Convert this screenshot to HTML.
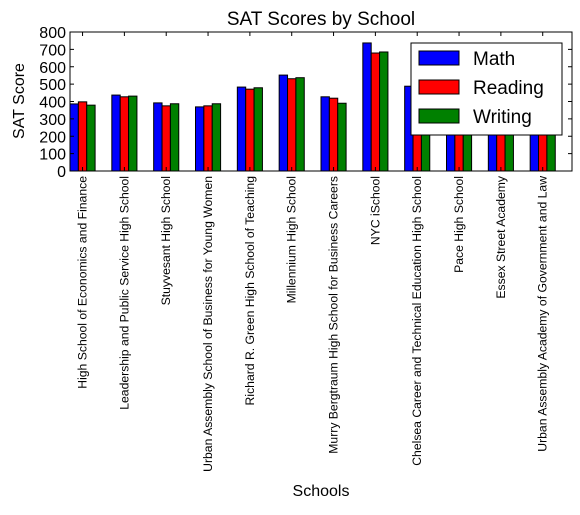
<!DOCTYPE html>
<html><head><meta charset="utf-8"><style>
body{margin:0;background:#fff}
svg text{font-family:"Liberation Sans",sans-serif}
</style></head><body>
<svg id="chart" width="580" height="510" xmlns="http://www.w3.org/2000/svg">
<rect width="580" height="510" fill="#fff"/>
<text x="321" y="25" font-size="19" text-anchor="middle">SAT Scores by School</text>
<text transform="translate(24,101) rotate(-90)" font-size="16" text-anchor="middle">SAT Score</text>
<text x="321" y="496" font-size="16" text-anchor="middle">Schools</text>
<g id="bars"></g>
<g id="axes"></g>
</svg>
<script>
const schools=["High School of Economics and Finance","Leadership and Public Service High School","Stuyvesant High School","Urban Assembly School of Business for Young Women","Richard R. Green High School of Teaching","Millennium High School","Murry Bergtraum High School for Business Careers","NYC iSchool","Chelsea Career and Technical Education High School","Pace High School","Essex Street Academy","Urban Assembly Academy of Government and Law"];
const mathScores=[386,437,392,369,483,552,427,737,488,450,440,430];
const readingScores=[398,427,375,375,471,531,419,679,440,445,430,425];
const writingScores=[379,431,387,387,479,537,390,685,430,440,425,420];
const yTicks=[0,100,200,300,400,500,600,700,800];
const L=70,R=572,T=32,B=171,NS="http://www.w3.org/2000/svg";
const xs=i=>L+(i)*(R-L)/12;
const ys=v=>B-v*(B-T)/800;
function mk(tag,attrs,parent){const e=document.createElementNS(NS,tag);for(const k in attrs)e.setAttribute(k,attrs[k]);parent.appendChild(e);return e;}
const bars=document.getElementById('bars'),axes=document.getElementById('axes');
const series=[[mathScores,'#0000ff','math'],[readingScores,'#ff0000','reading'],[writingScores,'#008000','writing']];
series.forEach(([vals,col,nm],s)=>{vals.forEach((v,i)=>{
 const r=mk('rect',{x:xs(i+0.2*s),y:ys(v),width:xs(0.2)-xs(0),height:ys(0)-ys(v),fill:col,stroke:'#000','stroke-width':1},bars);
 
 
});});
const frame=mk('rect',{x:L,y:T,width:R-L,height:B-T,fill:'none',stroke:'#000','stroke-width':1},axes);


yTicks.forEach(t=>{
 mk('line',{x1:L,x2:L+4,y1:ys(t),y2:ys(t),stroke:'#000'},axes);
 mk('line',{x1:R,x2:R-4,y1:ys(t),y2:ys(t),stroke:'#000'},axes);
 const tx=mk('text',{x:L-4,y:ys(t)+6,'font-size':16,'text-anchor':'end'},axes);
 tx.textContent=t;
 
 
});
schools.forEach((s,i)=>{
 const cx=xs(i+0.3);
 mk('line',{x1:cx,x2:cx,y1:B,y2:B-4,stroke:'#000'},axes);
 mk('line',{x1:cx,x2:cx,y1:T,y2:T+4,stroke:'#000'},axes);
 const tx=mk('text',{transform:`translate(${cx+4},176) rotate(-90)`,'font-size':12.2,'text-anchor':'end'},axes);
 tx.textContent=s;
 
 
});
const lg=mk('g',{},axes);


mk('rect',{x:411,y:43,width:151,height:92,fill:'#fff',stroke:'#000'},lg);
[['Math','#0000ff'],['Reading','#ff0000'],['Writing','#008000']].forEach(([n,c],k)=>{
 const y=51+k*29;
 mk('rect',{x:419,y:y,width:40,height:14,fill:c,stroke:'#000'},lg);
 const t=mk('text',{x:473,y:y+14,'font-size':19},lg);
 t.textContent=n;
 
 
});
</script>
</body></html>
